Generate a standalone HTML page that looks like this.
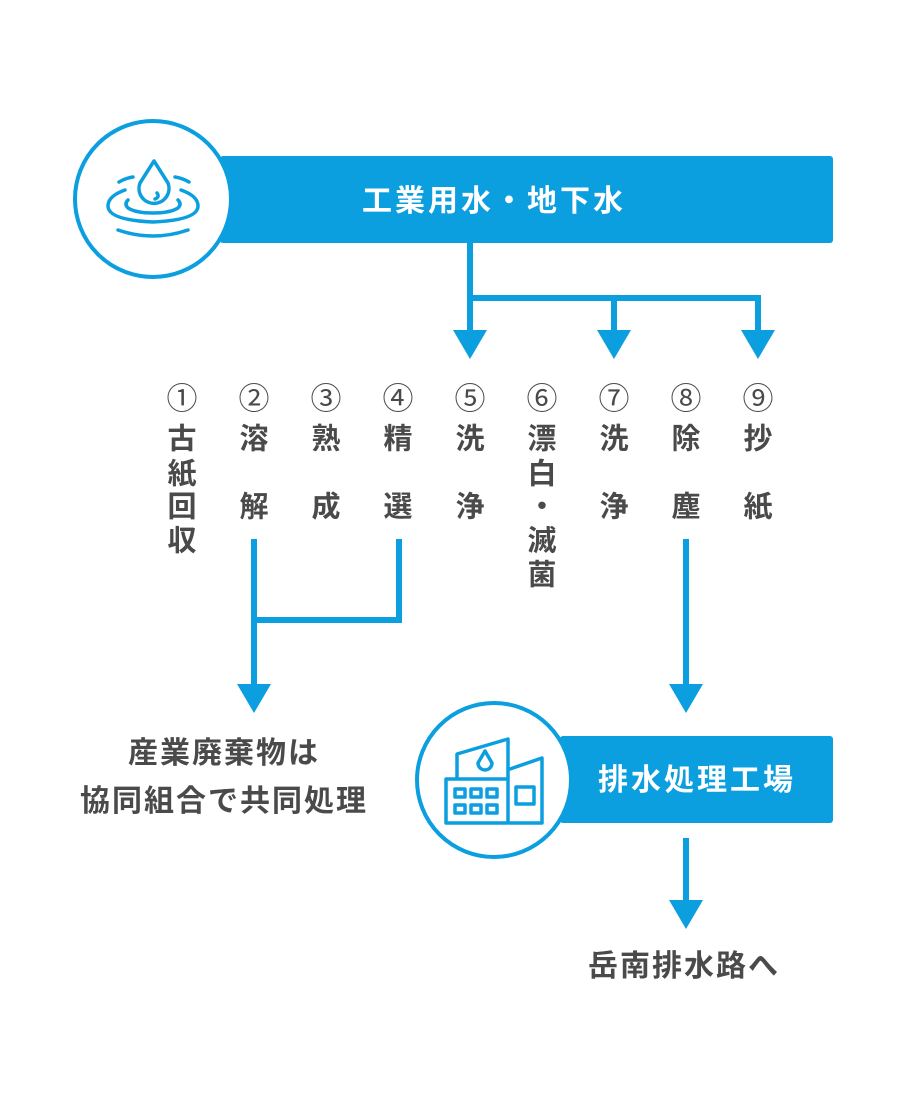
<!DOCTYPE html>
<html><head><meta charset="utf-8"><style>
body{margin:0;background:#fff;}
#c{position:relative;width:908px;height:1104px;overflow:hidden;font-family:"Liberation Sans","Noto Sans CJK JP",sans-serif;}
.t{position:absolute;transform:translate(-50%,-50%);white-space:nowrap;font-weight:bold;line-height:1;}
.g{color:#4a4a4a;font-size:29px;}
.n{color:#4a4a4a;font-size:31px;font-weight:normal;}
.w{color:#fff;font-size:30px;letter-spacing:3px;}
.b{font-size:30px;letter-spacing:2px;}
</style></head><body><div id="c">
<svg width="908" height="1104" style="position:absolute;left:0;top:0">
<g fill="#0c9fe0">
<rect x="220" y="156" width="613" height="87" rx="3"/>
<rect x="560" y="736" width="273" height="87" rx="3"/>
<rect x="467" y="243" width="6" height="90"/>
<rect x="467" y="295" width="294" height="6"/>
<rect x="611" y="295" width="6" height="38"/>
<rect x="755" y="295" width="6" height="38"/>
<polygon points="453,330 487,330 470,359"/>
<polygon points="597,330 631,330 614,359"/>
<polygon points="741,330 775,330 758,359"/>
<rect x="251" y="539" width="6" height="148"/>
<rect x="396" y="539" width="6" height="84"/>
<rect x="251" y="617" width="151" height="6"/>
<polygon points="237,684 271,684 254,713"/>
<rect x="683" y="539" width="6" height="148"/>
<polygon points="669,684 703,684 686,713"/>
<rect x="683" y="838" width="6" height="65"/>
<polygon points="669,900 703,900 686,929"/>
</g>
<circle cx="153" cy="199" r="78" fill="#fff" stroke="#0c9fe0" stroke-width="4"/>
<circle cx="494" cy="780" r="77" fill="#fff" stroke="#0c9fe0" stroke-width="4"/>
<g fill="none" stroke="#0c9fe0" stroke-width="3.5" stroke-linecap="round" stroke-linejoin="round">
<path d="M154,161 L140,183 A15,15 0 1 0 168,183 Z"/>
<path d="M157,193 Q160,197 155,199"/>
<path d="M119,182 Q126,178 133,177"/>
<path d="M175,177 Q182,178 189,182"/>
<path d="M125,190 Q108,196 108,206 Q108,220 153,222 Q198,220 198,206 Q198,196 181,190"/>
<path d="M128,200 Q124,204 128,208 Q136,213 153,213 Q170,213 178,208 Q182,204 178,200"/>
<path d="M118,230 Q153,242 188,230"/>
<path d="M457,778 V754 L508,739 V778"/>
<path d="M510,769 L542,758 V823 H510"/>
<path d="M446,779 H508 V823 H446 Z"/>
<path d="M485,751 L478,763 A7,7 0 1 0 492,763 Z"/>
<rect x="455" y="789" width="10" height="8"/><rect x="471" y="789" width="10" height="8"/><rect x="487" y="789" width="10" height="8"/>
<rect x="455" y="805" width="10" height="8"/><rect x="471" y="805" width="10" height="8"/><rect x="487" y="805" width="10" height="8"/>
<rect x="516" y="787" width="18" height="17"/>
</g>
</svg>
<div class="t w" style="left:494px;top:202px">工業用水・地下水</div>
<div class="t w" style="left:697px;top:781px">排水処理工場</div>
<div class="t n" style="left:182px;top:399px">①</div>
<div class="t n" style="left:254px;top:399px">②</div>
<div class="t n" style="left:326px;top:399px">③</div>
<div class="t n" style="left:398px;top:399px">④</div>
<div class="t n" style="left:470px;top:399px">⑤</div>
<div class="t n" style="left:542px;top:399px">⑥</div>
<div class="t n" style="left:614px;top:399px">⑦</div>
<div class="t n" style="left:686px;top:399px">⑧</div>
<div class="t n" style="left:758px;top:399px">⑨</div>
<div class="t g" style="left:182px;top:440px">古</div>
<div class="t g" style="left:182px;top:475px">紙</div>
<div class="t g" style="left:182px;top:508px">回</div>
<div class="t g" style="left:182px;top:542px">収</div>
<div class="t g" style="left:254px;top:440px">溶</div>
<div class="t g" style="left:254px;top:508px">解</div>
<div class="t g" style="left:326px;top:440px">熟</div>
<div class="t g" style="left:326px;top:508px">成</div>
<div class="t g" style="left:398px;top:440px">精</div>
<div class="t g" style="left:398px;top:508px">選</div>
<div class="t g" style="left:470px;top:440px">洗</div>
<div class="t g" style="left:470px;top:508px">浄</div>
<div class="t g" style="left:542px;top:440px">漂</div>
<div class="t g" style="left:542px;top:475px">白</div>
<div class="t g" style="left:542px;top:508px">・</div>
<div class="t g" style="left:542px;top:542px">滅</div>
<div class="t g" style="left:542px;top:576px">菌</div>
<div class="t g" style="left:614px;top:440px">洗</div>
<div class="t g" style="left:614px;top:508px">浄</div>
<div class="t g" style="left:686px;top:440px">除</div>
<div class="t g" style="left:686px;top:508px">塵</div>
<div class="t g" style="left:758px;top:440px">抄</div>
<div class="t g" style="left:758px;top:508px">紙</div>
<div class="t g b" style="left:224px;top:754px">産業廃棄物は</div>
<div class="t g b" style="left:224px;top:802px">協同組合で共同処理</div>
<div class="t g b" style="left:684px;top:967px">岳南排水路へ</div>
</div></body></html>
